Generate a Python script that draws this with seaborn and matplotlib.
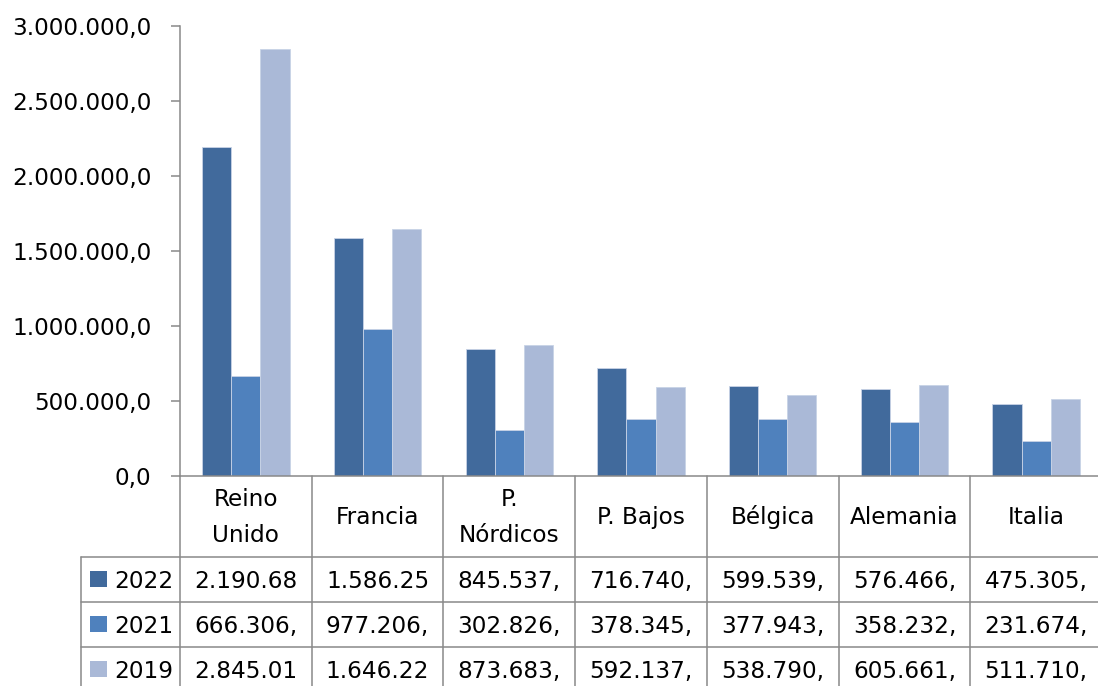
import pandas as pd
import seaborn as sns
import matplotlib.pyplot as plt
from matplotlib.patches import Rectangle
from matplotlib.transforms import blended_transform_factory

paises = ['Reino\nUnido', 'Francia', 'P.\nNórdicos', 'P. Bajos', 'Bélgica', 'Alemania', 'Italia']
anios = ['2022', '2021', '2019']
v2022 = [2190684, 1586254, 845537, 716740, 599539, 576466, 475305]
v2021 = [666306, 977206, 302826, 378345, 377943, 358232, 231674]
v2019 = [2845012, 1646225, 873683, 592137, 538790, 605661, 511710]
colores = ['#416A9C', '#4F81BD', '#AAB9D7']
yticks = [0, 500000, 1000000, 1500000, 2000000, 2500000, 3000000]

series = {'2022': v2022, '2021': v2021, '2019': v2019}
rows = []
for a in anios:
    for p, v in zip(paises, series[a]):
        rows.append({'pais': p, 'anio': a, 'valor': v})
df = pd.DataFrame(rows)


def es_num(v):
    # formato espanol: 3.000.000,0
    return f'{v:,.1f}'.replace(',', '#').replace('.', ',').replace('#', '.')


W, H = 1098, 686
GRIS = '#898989'
FS = 16.7

sns.set_style('white')
plt.rcParams['font.family'] = ['DejaVu Sans']
plt.rcParams['text.color'] = 'black'
plt.rcParams['ytick.labelcolor'] = 'black'

fig = plt.figure(figsize=(W / 100, H / 100), dpi=100)
ax = fig.add_axes([180 / W, 1 - 475.7 / H, 922 / W, 450 / H])

sns.barplot(data=df, x='pais', y='valor', hue='anio', hue_order=anios,
            order=paises, palette=colores, saturation=1, width=0.663,
            errorbar=None, edgecolor='#C8D3E6', linewidth=0.6,
            legend=False, ax=ax)

ax.set_xlim(-0.5, 6.5)
ax.set_ylim(0, 3000000)
ax.set_yticks(yticks)
ax.set_yticklabels([es_num(t) for t in yticks], fontsize=FS, color='black')
ax.set_xticks([])
ax.set_xlabel('')
ax.set_ylabel('')
for s in ['top', 'right']:
    ax.spines[s].set_visible(False)
for s in ['left', 'bottom']:
    ax.spines[s].set_color(GRIS)
    ax.spines[s].set_linewidth(1.1)
ax.tick_params(axis='y', length=6.5, width=1.1, color=GRIS, pad=14,
               left=True, direction='out')

# tabla de datos bajo el eje
tr = blended_transform_factory(ax.transData, fig.transFigure)


def fy(ypix):
    return 1 - ypix / H


x_leg = -1.254
lineas = [475.7, 556.7, 601.7, 646.7, 691.7]
kw = dict(transform=tr, color=GRIS, lw=1.1, clip_on=False)
for i in range(len(paises) + 1):
    ax.plot([i - 0.5, i - 0.5], [fy(475.7), fy(H + 5)], **kw)
ax.plot([x_leg, x_leg], [fy(556.7), fy(H + 5)], **kw)
for yl in lineas[1:4]:
    ax.plot([x_leg, 6.5], [fy(yl), fy(yl)], **kw)

# encabezados (una linea por texto, base comun)
for i, p in enumerate(paises):
    partes = p.split('\n')
    n = len(partes)
    for k, t in enumerate(partes):
        yb = 524.3 + 35.6 * (k - (n - 1) / 2)
        ax.text(i, fy(yb), t, transform=tr, ha='center', va='baseline',
                fontsize=FS, color='black', clip_on=False)

for r, a in enumerate(anios):
    y0 = lineas[r + 1]
    yc = y0 + 22.5
    ax.add_patch(Rectangle((-1.183, fy(yc + 8)), 0.127, 16 / H,
                           transform=tr, facecolor=colores[r],
                           edgecolor='none', clip_on=False))
    ax.text(-1.0, fy(yc + 8.4), a, transform=tr, ha='left',
            va='baseline', fontsize=FS, color='black', clip_on=False)
    for i, v in enumerate(series[a]):
        ax.text(i, fy(yc + 8.4), es_num(v)[:8], transform=tr,
                ha='center', va='baseline', fontsize=FS, color='black',
                clip_on=False)

fig.savefig('out.png', dpi=100)
